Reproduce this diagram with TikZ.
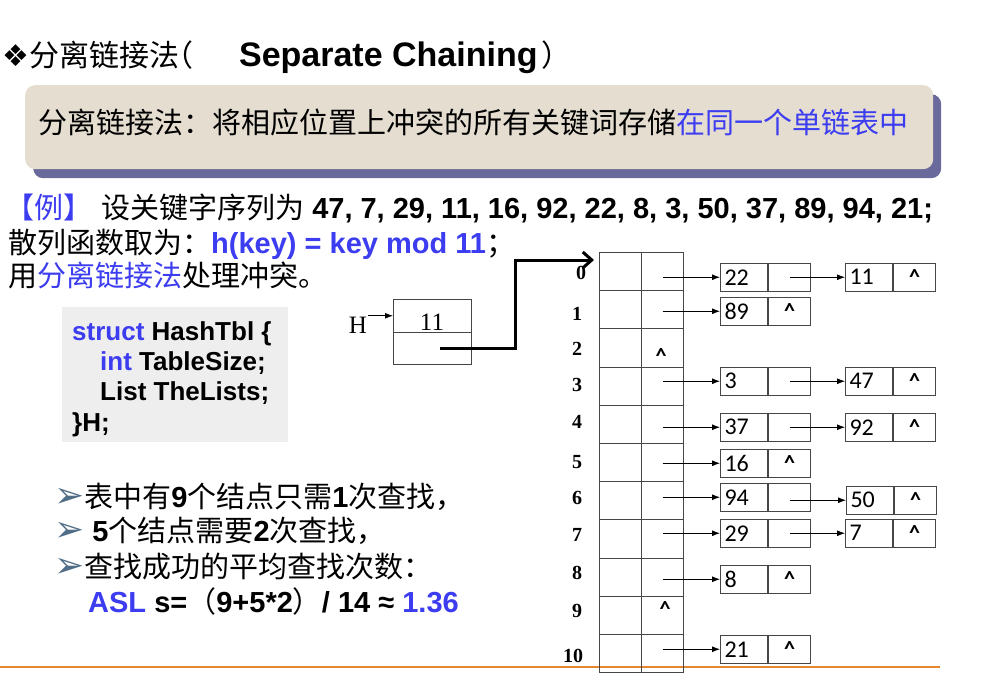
\documentclass[tikz,border=0pt]{standalone}
\usepackage{fontspec}
\setmainfont{Liberation Sans}
\newfontfamily\cjk{Noto Sans CJK SC}
\newfontfamily\tms{Liberation Serif}
\newfontfamily\calf{Carlito}
\newfontfamily\dvs{DejaVu Sans}
\usetikzlibrary{arrows.meta,calc,shadows}
\definecolor{myblue}{RGB}{60,60,240}
\definecolor{beige}{RGB}{228,221,208}
\definecolor{shadowc}{RGB}{105,105,155}
\definecolor{codegray}{RGB}{238,238,238}
\definecolor{arrowc}{RGB}{80,110,135}
\definecolor{orangec}{RGB}{230,135,45}
\definecolor{linegray}{RGB}{70,70,70}
\newcommand\zhs[1]{{\cjk #1}}
\newcommand\bul{{\color{arrowc}\fontsize{36}{36}\selectfont\dvs ➢}}
\tikzset{
  txt/.style={anchor=base west, inner sep=0pt},
  f28/.style={font=\fontsize{29}{34}\selectfont},
  f27/.style={font=\fontsize{29}{32}\selectfont},
  codef/.style={font=\fontsize{26}{30}\selectfont\bfseries},
  tcell/.style={draw=linegray, line width=1pt, minimum width=42pt, minimum height=38.2pt, inner sep=0pt, anchor=north west},
  kcell/.style={draw=linegray, line width=1pt, minimum width=47pt, minimum height=27.5pt, inner xsep=4pt, inner ysep=0pt, text width=39pt, align=left, anchor=north west, font=\fontsize{24}{26}\selectfont\calf},
  pcell/.style={draw=linegray, line width=1pt, minimum width=42pt, minimum height=27.5pt, inner sep=0pt, anchor=north west, font=\fontsize{22}{24}\selectfont\calf\bfseries},
  idx/.style={inner sep=0pt, font=\fontsize{20}{24}\selectfont\tms\bfseries},
  ptr/.style={line width=0.9pt, -{Latex[length=8pt,width=6pt]}},
  bigarrow/.style={line width=3pt, -{Straight Barb[length=9pt,width=16pt]}},
  hcell/.style={draw=linegray, line width=1pt, minimum width=78pt, minimum height=32.5pt, inner sep=0pt, anchor=north west},
}
\begin{document}
\begin{tikzpicture}[x=1pt,y=-1pt]
\useasboundingbox (0,0) rectangle (1003,676);
\fill[white] (0,0) rectangle (1003,676);

% title
\node[txt, font=\fontsize{30}{36}\selectfont] (title) at (2,67)
  {{\dvs ❖}\zhs{分离链接法}\hspace{-16pt}\zhs{（}\hspace{46pt}{\fontsize{34}{36}\selectfont\bfseries Separate Chaining}\hspace{4pt}\zhs{）}};

% banner
\node[fill=beige, rounded corners=10pt, minimum width=908pt, minimum height=84pt, anchor=north west,
      drop shadow={shadow xshift=8pt, shadow yshift=-9pt, fill=shadowc, opacity=1}] (banner) at (25,85) {};
\node[txt, font=\fontsize{29}{34}\selectfont] (bantext) at (38,134)
  {\zhs{分离链接法：将相应位置上冲突的所有关键词存储}{\color{myblue}\zhs{在同一个单链表中}}};

% example text
\node[txt, f28] (ex1) at (5,219)
  {{\color{myblue}\zhs{【例】}}\hspace{9pt}\zhs{设关键字序列为} {\bfseries 47, 7, 29, 11, 16, 92, 22, 8, 3, 50, 37, 89, 94, 21;}};
\node[txt, f28] (ex2) at (8,254)
  {\zhs{散列函数取为：}{\color{myblue}\bfseries h(key) = key mod 11}\zhs{；}};
\node[txt, f28] (ex3) at (8,286)
  {\zhs{用}{\color{myblue}\zhs{分离链接法}}\zhs{处理冲突。}};

% code box
\node[fill=codegray, minimum width=226pt, minimum height=135pt, anchor=north west, inner sep=0pt] (code) at (62,307) {};
\node[txt, codef] (c1) at (72,340) {{\color{myblue}struct} HashTbl \{};
\node[txt, codef] (c2) at (100,370) {{\color{myblue}int} TableSize;};
\node[txt, codef] (c3) at (100,400) {List TheLists;};
\node[txt, codef] (c4) at (72,431) {\}H;};

% bullets
\node[txt, f27] (b1) at (54,507)
  {\bul\zhs{表中有}{\bfseries 9}\zhs{个结点只需}{\bfseries 1}\zhs{次查找，}};
\node[txt, f27] (b2) at (54,541)
  {\bul\ {\bfseries 5}\zhs{个结点需要}{\bfseries 2}\zhs{次查找，}};
\node[txt, f27] (b3) at (54,577)
  {\bul\zhs{查找成功的平均查找次数：}};
\node[txt, f27] (b4) at (88,612)
  {{\bfseries\color{myblue}ASL} {\bfseries s=}\zhs{（}{\bfseries 9+5*2}\zhs{）}{\bfseries / 14 ≈ }{\bfseries\color{myblue}1.36}};

% orange rule
\draw[orangec, line width=2pt] (0,667) -- (940,667);

% H structure
\node[hcell] (htop) at (393,299) {};
\node[hcell] (hbot) at (393,331.5) {};
\node[anchor=base, inner sep=0pt, font=\fontsize{25}{28}\selectfont\tms] (hsize) at (432,330) {11};
\node[inner sep=1pt, font=\fontsize{25}{28}\selectfont\tms] (hlab) at (358,325) {H};
\draw[line width=1pt, -{Latex[length=8pt,width=6pt]}] (hlab.east |- htop.west) -- (htop.west);

% hash table
\foreach \i in {0,...,10}{
  \node[tcell] (tl\i) at (599,{252+38.2*\i}) {};
  \node[tcell] (tp\i) at (641,{252+38.2*\i}) {};
}
\coordinate (corner) at (515,260);
\coordinate (tip) at (594,260);
\draw[bigarrow] ([xshift=7pt]hbot.center) -| (corner) -- (tip);

% indices
\node[idx] (i0) at (581,273) {0};
\node[idx] (i1) at (577,314) {1};
\node[idx] (i2) at (577,349) {2};
\node[idx] (i3) at (577,385) {3};
\node[idx] (i4) at (577,422) {4};
\node[idx] (i5) at (577,462) {5};
\node[idx] (i6) at (577,498) {6};
\node[idx] (i7) at (577,535) {7};
\node[idx] (i8) at (577,573) {8};
\node[idx] (i9) at (577,611) {9};
\node[idx] (i10) at (573,656) {10};

% nulls in table
\node[inner sep=0pt, font=\fontsize{22}{24}\selectfont\calf\bfseries] (null2) at (661,356) {\textasciicircum};
\node[inner sep=0pt, font=\fontsize{22}{24}\selectfont\calf\bfseries] (null9) at (665,609) {\textasciicircum};

% list nodes, first column
\node[kcell] (k22) at (720,263) {22}; \node[pcell] (p22) at (k22.north east) {};
\node[kcell] (k89) at (720,297) {89}; \node[pcell] (p89) at (k89.north east) {\textasciicircum};
\node[kcell] (k3)  at (720,367) {3};  \node[pcell] (p3)  at (k3.north east) {};
\node[kcell] (k37) at (720,413) {37}; \node[pcell] (p37) at (k37.north east) {};
\node[kcell] (k16) at (720,449) {16}; \node[pcell] (p16) at (k16.north east) {\textasciicircum};
\node[kcell] (k94) at (720,483) {94}; \node[pcell] (p94) at (k94.north east) {};
\node[kcell] (k29) at (720,519) {29}; \node[pcell] (p29) at (k29.north east) {};
\node[kcell] (k8)  at (720,565) {8};  \node[pcell] (p8)  at (k8.north east) {\textasciicircum};
\node[kcell] (k21) at (720,635) {21}; \node[pcell] (p21) at (k21.north east) {\textasciicircum};

% second column
\node[kcell] (k11) at (845,263) {11}; \node[pcell] (p11) at (k11.north east) {\textasciicircum};
\node[kcell] (k47) at (845,367) {47}; \node[pcell] (p47) at (k47.north east) {\textasciicircum};
\node[kcell] (k92) at (845,413) {92}; \node[pcell] (p92) at (k92.north east) {\textasciicircum};
\node[kcell] (k50) at (846,486) {50}; \node[pcell] (p50) at (k50.north east) {\textasciicircum};
\node[kcell] (k7)  at (845,519) {7};  \node[pcell] (p7)  at (k7.north east) {\textasciicircum};

% pointers from table
\draw[ptr] (tp0.center |- k22.west) -- (k22.west);
\draw[ptr] (tp1.center |- k89.west) -- (k89.west);
\draw[ptr] (tp3.center |- k3.west) -- (k3.west);
\draw[ptr] (tp4.center |- k37.west) -- (k37.west);
\draw[ptr] (tp5.center |- k16.west) -- (k16.west);
\draw[ptr] (tp6.center |- k94.west) -- (k94.west);
\draw[ptr] (tp7.center |- k29.west) -- (k29.west);
\draw[ptr] (tp8.center |- k8.west) -- (k8.west);
\draw[ptr] (tp10.center |- k21.west) -- (k21.west);

% chain pointers
\draw[ptr] (p22.center) -- (k11.west);
\draw[ptr] (p3.center) -- (k47.west);
\draw[ptr] (p37.center) -- (k92.west);
\draw[ptr] (p94.center |- k50.west) -- (k50.west);
\draw[ptr] (p29.center) -- (k7.west);
\end{tikzpicture}
\end{document}
